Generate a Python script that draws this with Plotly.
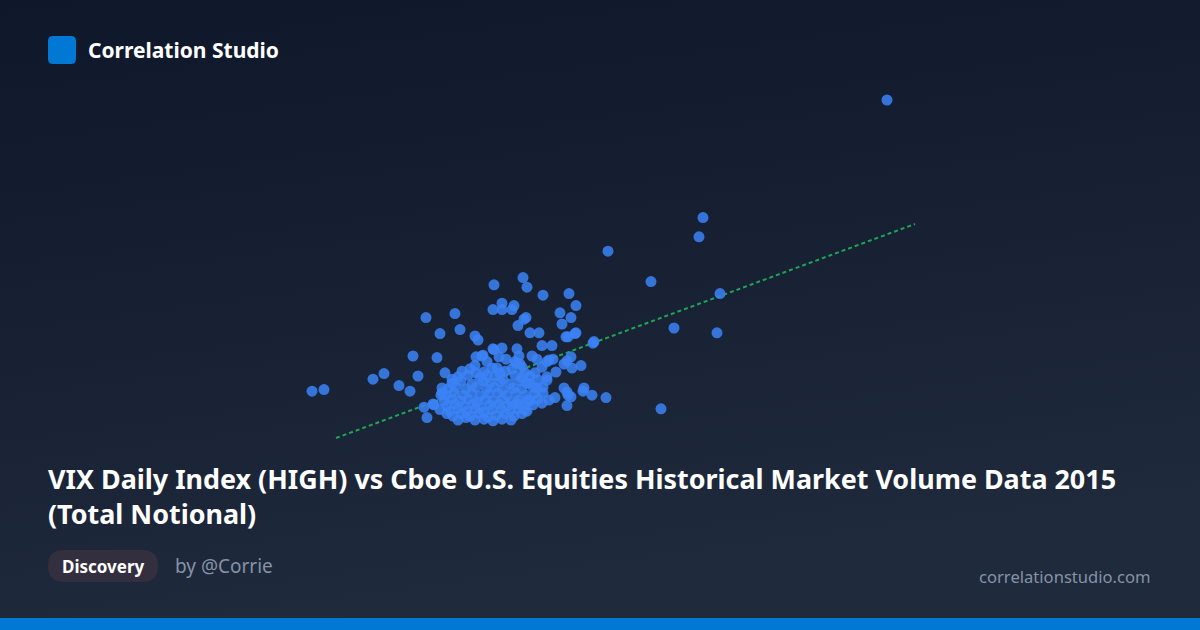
import base64
import plotly.graph_objects as go

W, H = 1200, 630

# ---- data: Cboe total notional ($B) vs VIX daily HIGH, 2015 ----
total_notional_bn = [
    483.5, 391.5, 389.5, 344, 365.5, 400, 377, 398.5, 370.5, 343, 337,
    301.5, 287, 303.5, 311.5, 324.5, 328, 291, 297, 286.5, 291, 296, 320, 325.5, 253, 267.5,
    303, 302, 299, 321, 270, 260, 305, 309.5, 328, 323, 324, 277.5, 279, 246.5, 258.5,
    226.5, 232, 249, 239.5, 245, 196, 202, 262.5, 266, 261, 260.5, 252, 257, 253.5,
    336, 332, 331.5, 322, 323.5, 325.5, 317.5, 323.5, 330.5, 325.5, 318, 313.5, 316, 311,
    298.5, 291, 286.5, 281.5, 278, 306, 308.5, 311, 314.5, 316.5, 322, 326, 323.5, 300,
    297.5, 293, 289.5, 277.5, 278,
    261, 256.5, 281, 283.5, 287, 299.5, 298, 301, 288.5, 290, 283.5, 313.5, 336.5, 327.5,
    307.5, 309, 313.5, 311.5, 308.5, 305, 324, 311, 314.5, 302.5, 304, 299, 311.5,
    271, 275, 282, 286, 292.5, 296, 302.5,
    269, 274, 280, 287.5, 291.5, 297.5, 301, 305,
    266, 270.5, 276, 281.5, 285, 290, 295, 300, 303.5,
    264, 268, 273, 278, 283, 287, 291.5, 296.5, 301, 306.5,
    263, 267, 271.5, 276, 280, 284.5, 289, 293.5, 298, 303, 307.5,
    262, 266, 270, 274, 278.5, 282.5, 286.5, 291, 295.5, 299.5, 305, 309,
    263.5, 267.5, 272, 276.5, 280.5, 285, 289.5, 294, 298, 302, 306.5,
    265, 269, 273.5, 277.5, 282, 286, 290.5, 295, 299, 303.5,
    266.5, 270.5, 275, 279.5, 284, 288, 292.5, 297, 301,
    269, 273, 277.5, 282, 286.5, 291, 295.5,
    260, 263.5,
]
vix_high = [
    52.5, 37.8, 35.4, 33.6, 29.8, 28.3, 24, 23.4, 13.9, 15.3, 22.3,
    30.3, 29.4, 29.1, 28.1, 28.3, 26.8, 27.1, 26.8, 26.3, 26.3, 26.3, 25.9, 25.3, 25.3, 25.8,
    25.3, 25.1, 24.3, 24.5, 23.8, 23.3, 23.4, 23.4, 23.4, 22.9, 22.9, 23, 22.5, 20.5, 20.3,
    17.6, 18.3, 18, 16.8, 16.1, 16.1, 16.3, 18.4, 17.6, 16.5, 15.6, 14.1, 14.4, 12.8,
    15.6, 16.5, 16.1, 16.5, 16, 15.4, 15.3, 14.3, 19.3, 20.4, 18.5, 17.9, 21.8, 21.8,
    21.4, 21.5, 21.4, 20.6, 20.4, 20.5, 20.1, 19.1, 20, 20.1, 19.5, 19, 19.9, 19.5,
    19.8, 20.1, 20.4, 19.3, 18.4,
    15.9, 14.5, 20.5, 19.8, 21.3, 20.5, 19.6, 19.1, 19, 18.4, 18.1, 19.8, 22.1, 23.3,
    18.4, 17.5, 17.5, 16.6, 16.5, 17.1, 15.6, 14.6, 15, 13.8, 15, 14.6, 15.9,
    18.6, 18.9, 18.5, 19, 18.6, 18.9, 18.4,
    17.9, 18.1, 17.8, 18, 17.6, 18.1, 17.8, 18,
    17.1, 17.4, 17, 17.4, 17.1, 17.3, 17, 17.4, 17.1,
    16.4, 16.6, 16.4, 16.6, 16.4, 16.6, 16.3, 16.5, 16.4, 16.6,
    15.6, 15.9, 15.6, 15.9, 15.5, 15.8, 15.9, 15.6, 15.9, 15.6, 15.8,
    14.9, 15.1, 14.9, 15.1, 14.8, 15.1, 14.9, 15.1, 14.8, 15, 14.9, 15.1,
    14.3, 14.5, 14.3, 14.5, 14.1, 14.4, 14.5, 14.3, 14.5, 14.3, 14.4,
    13.6, 13.9, 13.6, 13.9, 13.5, 13.8, 13.9, 13.6, 13.9, 13.6,
    13, 13.3, 13, 13.3, 12.9, 13.1, 13.3, 13, 13.3,
    12.5, 12.8, 12.5, 12.6, 12.4, 12.6, 12.5,
    13.8, 13.3,
]
trend_x = [208, 497.5]
trend_y = [10.25, 37]

title_line1 = "VIX Daily Index (HIGH) vs Cboe U.S. Equities Historical Market Volume Data 2015"
title_line2 = "(Total Notional)"
brand = "Correlation Studio"
badge = "Discovery"
author = "by @Corrie"
site = "correlationstudio.com"

FONT = "Noto Sans"


def px(x):
    return x / W


def py(y):
    return 1 - y / H


def rounded_rect(x0, y0, x1, y1, r):
    pts = [
        f"M {px(x0 + r)},{py(y0)}",
        f"L {px(x1 - r)},{py(y0)}",
        f"Q {px(x1)},{py(y0)} {px(x1)},{py(y0 + r)}",
        f"L {px(x1)},{py(y1 - r)}",
        f"Q {px(x1)},{py(y1)} {px(x1 - r)},{py(y1)}",
        f"L {px(x0 + r)},{py(y1)}",
        f"Q {px(x0)},{py(y1)} {px(x0)},{py(y1 - r)}",
        f"L {px(x0)},{py(y0 + r)}",
        f"Q {px(x0)},{py(y0)} {px(x0 + r)},{py(y0)}",
        "Z",
    ]
    return " ".join(pts)


svg = (
    '<svg xmlns="http://www.w3.org/2000/svg" width="1200" height="630">'
    '<defs><linearGradient id="g" x1="0" y1="0" x2="0.25" y2="1">'
    '<stop offset="0" stop-color="#0f172a"/><stop offset="1" stop-color="#1f2a3c"/>'
    '</linearGradient></defs><rect width="1200" height="630" fill="url(#g)"/></svg>'
)
bg_uri = "data:image/svg+xml;base64," + base64.b64encode(svg.encode()).decode()

fig = go.Figure()
fig.add_trace(go.Scatter(
    x=trend_x, y=trend_y, mode="lines",
    line=dict(color="rgba(34,197,94,0.8)", width=2, dash="4px,3px"),
    hoverinfo="skip", showlegend=False,
))
fig.add_trace(go.Scatter(
    x=total_notional_bn, y=vix_high, mode="markers",
    marker=dict(size=11, color="#3b82f6", opacity=0.85, line=dict(width=0)),
    showlegend=False,
))

fig.update_layout(
    width=W, height=H,
    margin=dict(l=0, r=0, t=0, b=0),
    paper_bgcolor="#111827", plot_bgcolor="rgba(0,0,0,0)",
    xaxis=dict(range=[40, 640], visible=False, fixedrange=True),
    yaxis=dict(range=[65 - H / 8, 65], visible=False, fixedrange=True),
    images=[dict(source=bg_uri, xref="paper", yref="paper", x=0, y=1,
                 sizex=1, sizey=1, sizing="stretch", layer="below",
                 xanchor="left", yanchor="top")],
    shapes=[
        dict(type="path", path=rounded_rect(48, 36, 76, 64, 5), xref="paper", yref="paper",
             fillcolor="#0078d4", line=dict(width=0)),
        dict(type="path", path=rounded_rect(48, 550, 158, 582, 16), xref="paper", yref="paper",
             fillcolor="#332f3e", line=dict(width=0), layer="below"),
        dict(type="rect", xref="paper", yref="paper", x0=0, x1=1, y0=0, y1=py(618),
             fillcolor="#0078d4", line=dict(width=0)),
    ],
    annotations=[
        dict(text=f"<b>{brand}</b>", x=px(86), y=py(50), xref="paper", yref="paper",
             xanchor="left", yanchor="middle", showarrow=False,
             font=dict(family=FONT, size=21, color="#ffffff")),
        dict(text=f"<b>{title_line1}</b><br><b>{title_line2}</b>", x=px(46), y=py(496),
             xref="paper", yref="paper", align="left",
             xanchor="left", yanchor="middle", showarrow=False,
             font=dict(family=FONT, size=26.9, color="#ffffff")),
        dict(text=f"<b>{badge}</b>", x=px(103), y=py(566), xref="paper", yref="paper",
             xanchor="center", yanchor="middle", showarrow=False,
             font=dict(family=FONT, size=17, color="#ffffff")),
        dict(text=author, x=px(173), y=py(566), xref="paper", yref="paper",
             xanchor="left", yanchor="middle", showarrow=False,
             font=dict(family=FONT, size=19, color="#8593a8")),
        dict(text=site, x=px(1153), y=py(576), xref="paper", yref="paper",
             xanchor="right", yanchor="middle", showarrow=False,
             font=dict(family=FONT, size=16.6, color="#8593a8")),
    ],
)

fig.write_html(
    "out.html",
    config={"displayModeBar": False},
    post_script="document.body.style.margin='0';document.body.style.overflow='hidden';",
)
